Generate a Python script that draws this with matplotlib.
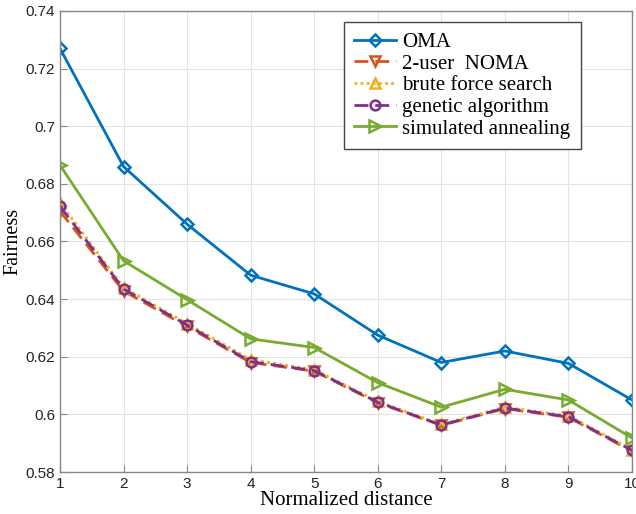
import matplotlib
matplotlib.use("Agg")
import matplotlib.pyplot as plt

x = [1, 2, 3, 4, 5, 6, 7, 8, 9, 10]
oma = [0.7270, 0.6860, 0.6660, 0.6483, 0.6418, 0.6275, 0.6180, 0.6220, 0.6177, 0.6050]
noma = [0.6705, 0.6428, 0.6305, 0.6180, 0.6150, 0.6040, 0.5962, 0.6020, 0.5990, 0.5872]
bfs = [0.6735, 0.6440, 0.6315, 0.6190, 0.6155, 0.6045, 0.5965, 0.6025, 0.5995, 0.5878]
ga = [0.6722, 0.6435, 0.6310, 0.6183, 0.6152, 0.6042, 0.5963, 0.6022, 0.5992, 0.5875]
sa = [0.6865, 0.6533, 0.6398, 0.6262, 0.6232, 0.6110, 0.6025, 0.6087, 0.6050, 0.5918]
labels = ["OMA", "2-user  NOMA", "brute force search", "genetic algorithm", "simulated annealing"]

fig = plt.figure(figsize=(6.36, 5.14), dpi=100)
ax = fig.add_axes([0.0943, 0.0817, 0.8994, 0.897])

lw = 2.0
ax.plot(x, oma, color="#0072BD", lw=lw, marker="D", ms=6, mfc="none", mew=1.8, label=labels[0])
ax.plot(x, noma, color="#D95319", lw=lw, ls=(0, (5, 2.5)), marker="v", ms=7, mfc="none", mew=1.8, label=labels[1])
ax.plot(x, bfs, color="#EDB120", lw=lw, ls=(0, (1, 1.2)), marker="^", ms=7, mfc="none", mew=1.8, label=labels[2])
ax.plot(x, ga, color="#7E2F8E", lw=lw, ls=(0, (5, 2.5)), marker="o", ms=7, mfc="none", mew=1.8, label=labels[3])
ax.plot(x, sa, color="#77AC30", lw=lw, marker=">", ms=8, mfc="none", mew=1.8, label=labels[4])

ax.set_xlim(1, 10)
ax.set_ylim(0.58, 0.74)
ax.set_xticks(x)
ax.set_xticklabels([str(v) for v in x])
yt = [0.58, 0.6, 0.62, 0.64, 0.66, 0.68, 0.7, 0.72, 0.74]
ax.set_yticks(yt)
ax.set_yticklabels(["0.58", "0.6", "0.62", "0.64", "0.66", "0.68", "0.7", "0.72", "0.74"])
ax.grid(True, color="#e3e3e3", lw=0.8)
ax.set_axisbelow(True)
for s in ax.spines.values():
    s.set_color("#888888")
    s.set_linewidth(1.0)
ax.tick_params(direction="in", length=5, color="#888888", labelsize=11, labelcolor="#222222")
for t in ax.get_xticklabels() + ax.get_yticklabels():
    t.set_family("Liberation Sans")

ax.set_xlabel("Normalized distance", family="Liberation Serif", fontsize=15, labelpad=0)
ax.set_ylabel("Fairness", family="Liberation Serif", fontsize=14.5, labelpad=2)

leg = ax.legend(loc="upper left", bbox_to_anchor=(344 / 636, 1 - 22 / 514), bbox_transform=fig.transFigure,
                prop={"family": "Liberation Serif", "size": 15}, fancybox=False, framealpha=1,
                edgecolor="#444444", handlelength=2.0, handletextpad=0.3, labelspacing=0.1,
                borderpad=0.5, borderaxespad=0)
leg.get_frame().set_linewidth(1.0)

fig.savefig("out.png", dpi=100)
